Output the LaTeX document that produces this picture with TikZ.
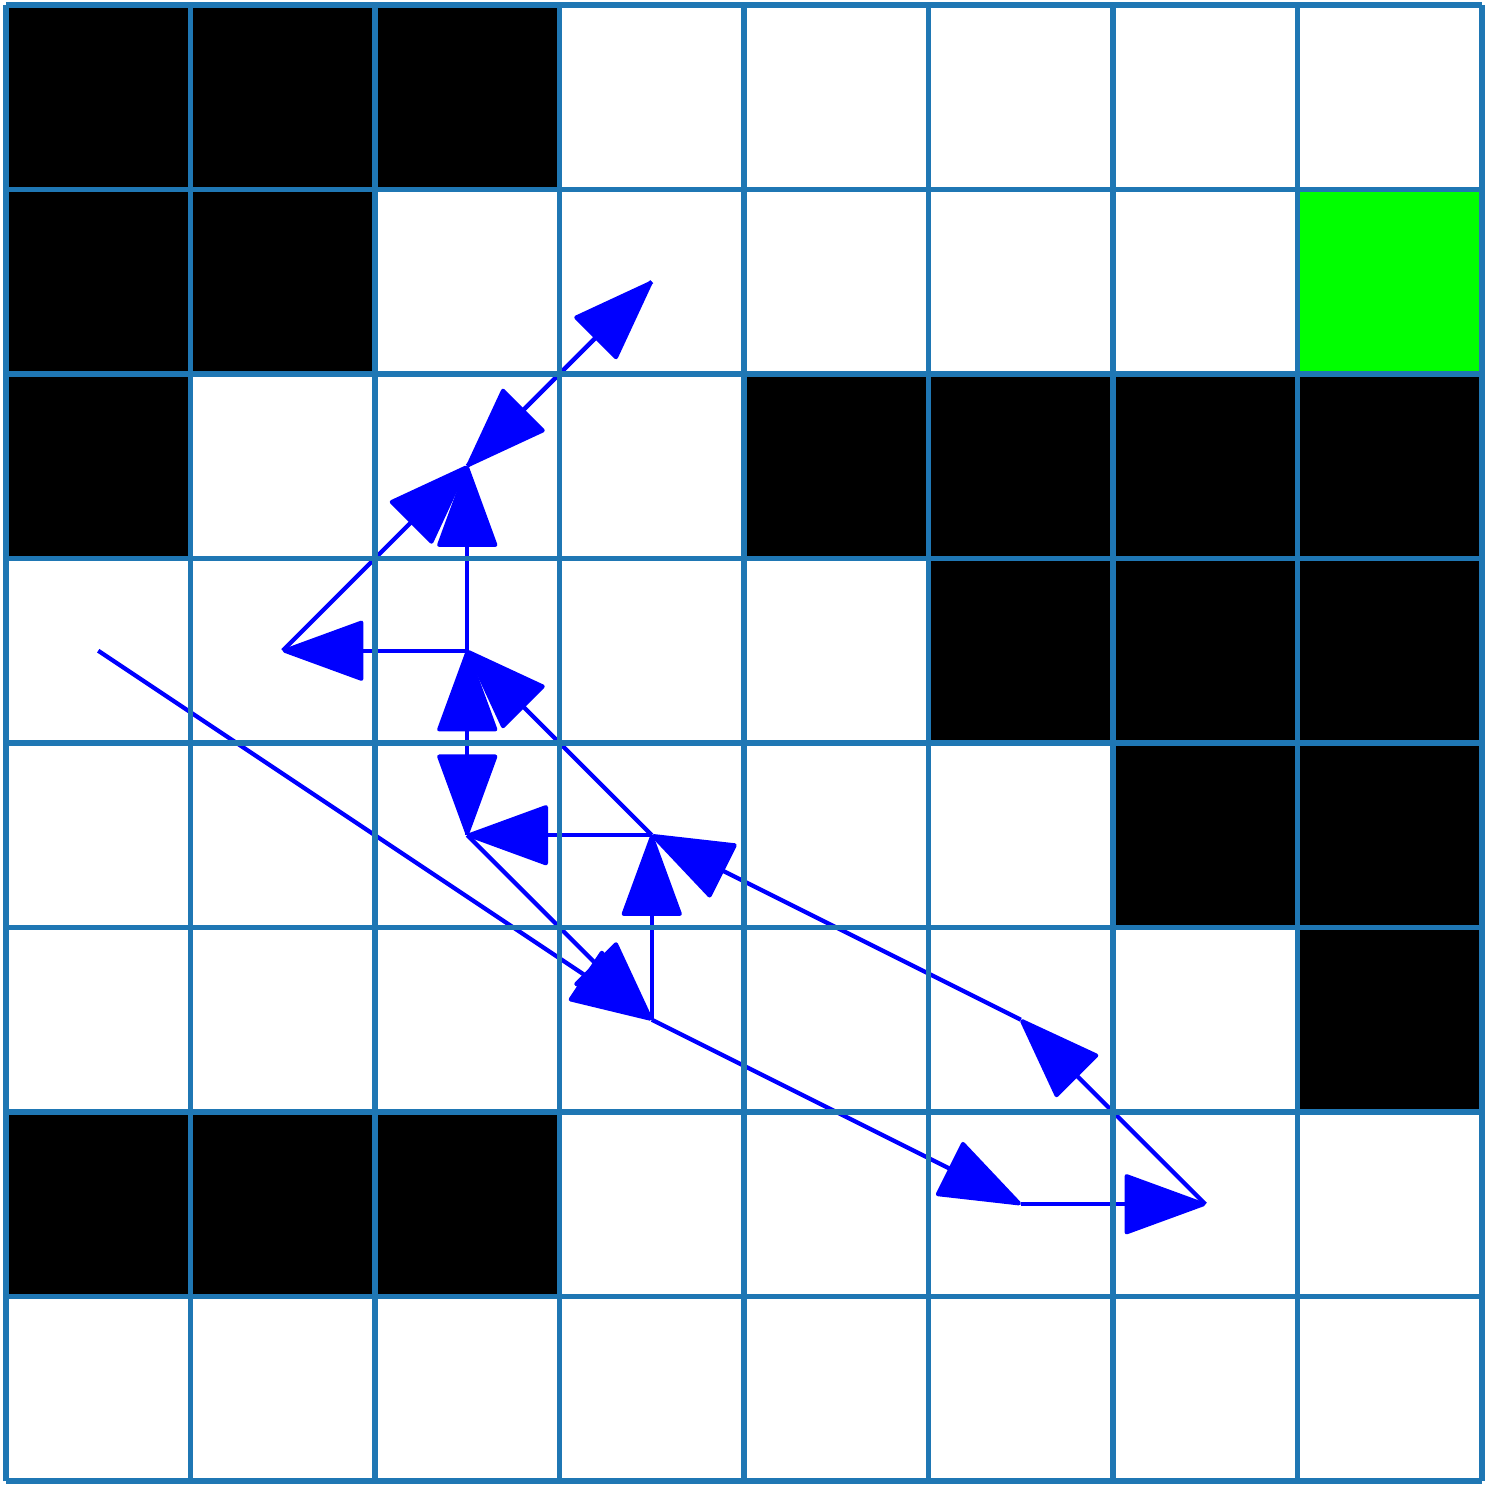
\documentclass[tikz,border=0pt]{standalone}
\usetikzlibrary{arrows.meta}
\definecolor{gridc}{RGB}{31,119,180}
\definecolor{pathblue}{RGB}{0,0,255}
\definecolor{goalgreen}{RGB}{0,255,0}
\begin{document}
\begin{tikzpicture}[x=1cm,y=1cm,
  wall/.style={fill=black},
  goal/.style={fill=goalgreen},
  move/.style={draw=pathblue, fill=pathblue, line width=0.65pt, -{Triangle[length=0.46cm,width=0.33cm,round]}},
  gridline/.style={draw=gridc, line width=0.9pt}]
\useasboundingbox (-0.0325,-0.027) rectangle (8.0325,8.027);
% walls (column, row from top)
\foreach \c/\r in {0/0,1/0,2/0, 0/1,1/1, 0/2,4/2,5/2,6/2,7/2, 5/3,6/3,7/3, 6/4,7/4, 7/5, 0/6,1/6,2/6}
  \fill[wall] (\c,7-\r) rectangle (\c+1,8-\r);
\fill[goal] (7,6) rectangle (8,7);
% cell centres
\foreach \c in {0,...,7}
  \foreach \r in {0,...,7}
    \coordinate (p-\c-\r) at (\c+0.5,7.5-\r);
% moves
\foreach \a/\b in {0-3/3-5, 2-4/3-5, 3-5/5-6, 5-6/6-6, 6-6/5-5, 5-5/3-4, 3-5/3-4,
                   3-4/2-4, 3-4/2-3, 2-4/2-3, 2-3/2-4, 2-3/1-3, 1-3/2-2, 2-3/2-2,
                   2-2/3-1, 3-1/2-2}
  \draw[move] (p-\a) -- (p-\b);
% grid
\draw[gridline] (0,0) grid (8,8);
\end{tikzpicture}
\end{document}
